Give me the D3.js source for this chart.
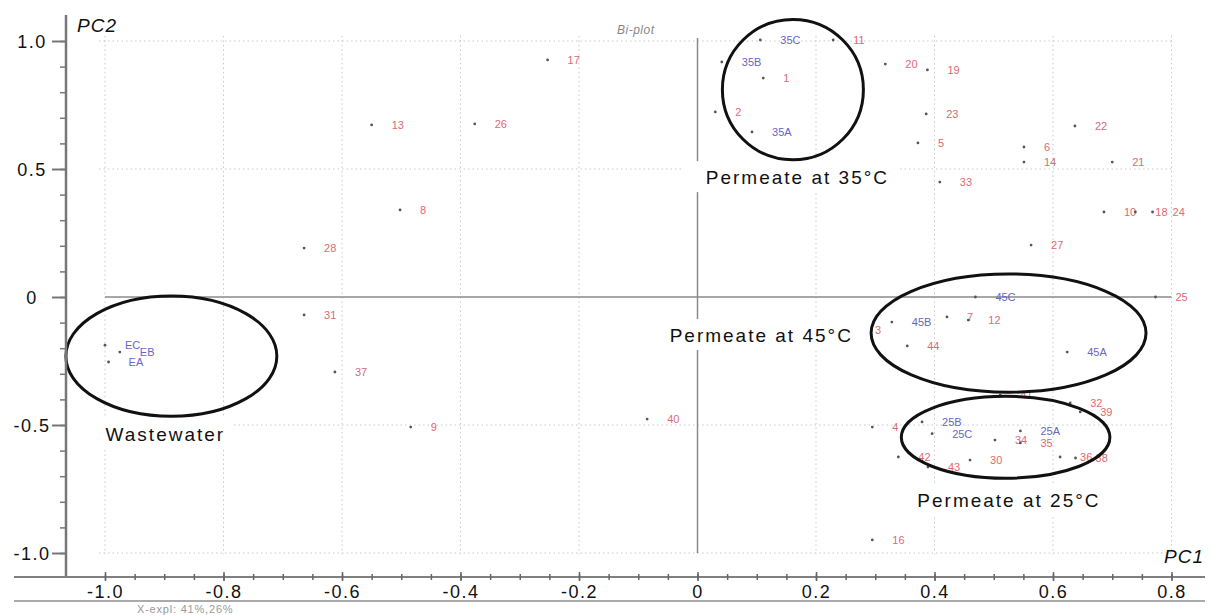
<!DOCTYPE html>
<html>
<head>
<meta charset="utf-8">
<script src="https://cdn.jsdelivr.net/npm/d3@7"></script>
<style>
  body { margin: 0; background: #fff; }
  svg { display: block; font-family: "Liberation Sans", Arial, sans-serif; }
</style>
</head>
<body>
<svg id="chart" width="1211" height="615"></svg>
<script>
// tick values of the two principal components
const xTicks = [-1.0, -0.8, -0.6, -0.4, -0.2, 0, 0.2, 0.4, 0.6, 0.8];
const yTicks = [1.0, 0.5, 0, -0.5, -1.0];

// variable loadings (red labels)
const variables = [
  { id: "1", pc1: 0.111, pc2: 0.855 },
  { id: "2", pc1: 0.030, pc2: 0.723 },
  { id: "3", pc1: 0.266, pc2: -0.129 },
  { id: "4", pc1: 0.295, pc2: -0.508 },
  { id: "5", pc1: 0.372, pc2: 0.602 },
  { id: "6", pc1: 0.551, pc2: 0.586 },
  { id: "7", pc1: 0.421, pc2: -0.078 },
  { id: "8", pc1: -0.502, pc2: 0.340 },
  { id: "9", pc1: -0.484, pc2: -0.508 },
  { id: "10", pc1: 0.686, pc2: 0.332 },
  { id: "11", pc1: 0.229, pc2: 1.004 },
  { id: "12", pc1: 0.457, pc2: -0.090 },
  { id: "13", pc1: -0.550, pc2: 0.672 },
  { id: "14", pc1: 0.551, pc2: 0.527 },
  { id: "16", pc1: 0.295, pc2: -0.949 },
  { id: "17", pc1: -0.253, pc2: 0.926 },
  { id: "18", pc1: 0.739, pc2: 0.332 },
  { id: "19", pc1: 0.388, pc2: 0.887 },
  { id: "20", pc1: 0.317, pc2: 0.910 },
  { id: "21", pc1: 0.700, pc2: 0.527 },
  { id: "22", pc1: 0.637, pc2: 0.668 },
  { id: "23", pc1: 0.386, pc2: 0.715 },
  { id: "24", pc1: 0.768, pc2: 0.332 },
  { id: "25", pc1: 0.773, pc2: 0.000 },
  { id: "26", pc1: -0.376, pc2: 0.676 },
  { id: "27", pc1: 0.563, pc2: 0.203 },
  { id: "28", pc1: -0.664, pc2: 0.191 },
  { id: "30", pc1: 0.460, pc2: -0.637 },
  { id: "31", pc1: -0.664, pc2: -0.070 },
  { id: "32", pc1: 0.629, pc2: -0.414 },
  { id: "33", pc1: 0.409, pc2: 0.449 },
  { id: "34", pc1: 0.502, pc2: -0.559 },
  { id: "35", pc1: 0.545, pc2: -0.570 },
  { id: "36", pc1: 0.612, pc2: -0.625 },
  { id: "37", pc1: -0.612, pc2: -0.293 },
  { id: "38", pc1: 0.638, pc2: -0.629 },
  { id: "39", pc1: 0.646, pc2: -0.449 },
  { id: "40", pc1: -0.085, pc2: -0.477 },
  { id: "41", pc1: 0.511, pc2: -0.383 },
  { id: "42", pc1: 0.339, pc2: -0.625 },
  { id: "43", pc1: 0.389, pc2: -0.664 },
  { id: "44", pc1: 0.354, pc2: -0.191 }
];

// sample scores (blue labels)
const samples = [
  { id: "EC", pc1: -1.000, pc2: -0.188 },
  { id: "EB", pc1: -0.975, pc2: -0.215 },
  { id: "EA", pc1: -0.994, pc2: -0.254 },
  { id: "35C", pc1: 0.106, pc2: 1.004 },
  { id: "35B", pc1: 0.041, pc2: 0.918 },
  { id: "35A", pc1: 0.092, pc2: 0.645 },
  { id: "45C", pc1: 0.469, pc2: 0.000 },
  { id: "45B", pc1: 0.328, pc2: -0.098 },
  { id: "45A", pc1: 0.624, pc2: -0.215 },
  { id: "25B", pc1: 0.379, pc2: -0.488 },
  { id: "25C", pc1: 0.396, pc2: -0.534 },
  { id: "25A", pc1: 0.545, pc2: -0.523 }
];

// sample groups circled on the plot (centre and half-widths in PC units)
const groups = [
  { name: "Wastewater", cx: -0.888, cy: -0.231, rx: 0.178, ry: 0.235 },
  { name: "Permeate at 35°C", cx: 0.161, cy: 0.810, rx: 0.119, ry: 0.274 },
  { name: "Permeate at 45°C", cx: 0.525, cy: -0.141, rx: 0.232, ry: 0.231 },
  { name: "Permeate at 25°C", cx: 0.520, cy: -0.548, rx: 0.176, ry: 0.160 }
];

const svg = d3.select("#chart");

const x = d3.scaleLinear().domain([-1, 0.8]).range([105, 1171.5]);
const y = d3.scaleLinear().domain([-1, 1]).range([553, 41]);

const fmt = d => (d === 0 ? "0" : d.toFixed(1));

// grid
const grid = svg.append("g");
grid.selectAll("line.v")
  .data(xTicks.filter(d => d !== 0))
  .enter().append("line")
  .attr("x1", d => x(d)).attr("x2", d => x(d))
  .attr("y1", y(1.02)).attr("y2", y(-1.005))
  .attr("stroke", "#c8c8c8")
  .attr("stroke-dasharray", "1.5,3");
grid.selectAll("line.h")
  .data(yTicks.filter(d => d !== 0))
  .enter().append("line")
  .attr("x1", x(-1.01)).attr("x2", x(0.802))
  .attr("y1", d => y(d)).attr("y2", d => y(d))
  .attr("stroke", "#c8c8c8")
  .attr("stroke-dasharray", "1.5,3");

// zero lines
svg.append("line")
  .attr("x1", x(-1)).attr("x2", x(0.8))
  .attr("y1", y(0)).attr("y2", y(0))
  .attr("stroke", "#8a8a8a").attr("stroke-width", 1.5);
svg.append("line")
  .attr("x1", x(0)).attr("x2", x(0))
  .attr("y1", y(1.012)).attr("y2", y(-1))
  .attr("stroke", "#8a8a8a").attr("stroke-width", 1.5);

svg.append("text")
  .attr("x", 617).attr("y", 34)
  .attr("font-size", 12).attr("font-style", "italic")
  .attr("letter-spacing", 0.5)
  .attr("fill", "#888")
  .text("Bi-plot");

// points
const drawPoints = (data, color) => {
  const g = svg.append("g")
    .selectAll("g")
    .data(data)
    .enter().append("g")
    .attr("transform", d => `translate(${x(d.pc1)},${y(d.pc2)})`);
  g.append("circle")
    .attr("r", 1.4)
    .attr("fill", "#555");
  g.append("text")
    .attr("x", 20)
    .attr("dy", "0.36em")
    .attr("font-size", 11)
    .attr("fill", color)
    .text(d => d.id);
};
drawPoints(variables, "#dc6a74");
drawPoints(samples, "#6666c4");

// group annotations: white boxes behind the captions
const captionAt = {
  "Wastewater": [-0.999, -0.5625],
  "Permeate at 35°C": [0.014, 0.441],
  "Permeate at 45°C": [-0.047, -0.176],
  "Permeate at 25°C": [0.371, -0.82]
};
const caps = svg.append("g")
  .selectAll("g")
  .data(groups)
  .enter().append("g");
caps.append("rect").attr("fill", "#fff");
const capText = caps.append("text")
  .attr("x", d => x(captionAt[d.name][0]))
  .attr("y", d => y(captionAt[d.name][1]))
  .attr("font-size", 19)
  .attr("letter-spacing", 2)
  .attr("fill", "#111")
  .text(d => d.name);
capText.each(function () {
  const b = this.getBBox();
  d3.select(this.previousSibling)
    .attr("x", b.x - 22).attr("y", b.y - 6)
    .attr("width", b.width + 30).attr("height", b.height + 10);
});

// ellipses
svg.append("g")
  .selectAll("ellipse")
  .data(groups)
  .enter().append("ellipse")
  .attr("cx", d => x(d.cx))
  .attr("cy", d => y(d.cy))
  .attr("rx", d => x(d.rx) - x(0))
  .attr("ry", d => y(0) - y(d.ry))
  .attr("fill", "none")
  .attr("stroke", "#111")
  .attr("stroke-width", 3);

// left axis
const yAxisG = svg.append("g").attr("transform", "translate(66,0)");
yAxisG.call(d3.axisLeft(y).tickValues(d3.range(-10, 11).map(i => i / 10)).tickSize(6).tickFormat(""));
yAxisG.call(g => g.select(".domain").remove());
yAxisG.selectAll(".tick line").attr("stroke", "#777").attr("stroke-width", 1.5);
const yMajor = svg.append("g").attr("transform", "translate(66,0)");
yMajor.call(d3.axisLeft(y).tickValues(yTicks).tickSize(14).tickFormat(fmt));
yMajor.call(g => g.select(".domain").remove());
yMajor.selectAll(".tick line").attr("stroke", "#777").attr("stroke-width", 2);
yMajor.selectAll(".tick text")
  .attr("x", -34).attr("dy", "0.35em")
  .attr("text-anchor", "middle")
  .attr("font-size", 18)
  .attr("letter-spacing", 1.5)
  .attr("font-family", "'Liberation Sans', Arial, sans-serif")
  .attr("fill", "#111");
svg.append("line")
  .attr("x1", 66).attr("x2", 66).attr("y1", 15).attr("y2", 577)
  .attr("stroke", "#777").attr("stroke-width", 2.5);

// bottom axis
svg.append("line")
  .attr("x1", 14).attr("x2", 1205).attr("y1", 577).attr("y2", 577)
  .attr("stroke", "#808080").attr("stroke-width", 2);
svg.append("line")
  .attr("x1", 14).attr("x2", 1205).attr("y1", 601).attr("y2", 601)
  .attr("stroke", "#aaa").attr("stroke-width", 2);
const xMinor = svg.append("g").attr("transform", "translate(0,577)");
xMinor.call(d3.axisBottom(x).tickValues(d3.range(-20, 17).map(i => i / 20)).tickSize(0).tickFormat(""));
xMinor.call(g => g.select(".domain").remove());
xMinor.selectAll(".tick line").attr("y1", -3).attr("y2", 3).attr("stroke", "#666").attr("stroke-width", 1.5);
const xMajor = svg.append("g").attr("transform", "translate(0,577)");
xMajor.call(d3.axisBottom(x).tickValues(xTicks).tickSize(0).tickFormat(fmt));
xMajor.call(g => g.select(".domain").remove());
xMajor.selectAll(".tick line").attr("y1", -5).attr("y2", 4).attr("stroke", "#666").attr("stroke-width", 1.5);
xMajor.selectAll(".tick text")
  .attr("y", 21).attr("dy", 0)
  .attr("font-size", 18)
  .attr("letter-spacing", 1.5)
  .attr("font-family", "'Liberation Sans', Arial, sans-serif")
  .attr("fill", "#111");

// axis titles
svg.append("text")
  .attr("x", 77).attr("y", 32)
  .attr("font-size", 19).attr("font-style", "italic")
  .attr("letter-spacing", 1)
  .attr("fill", "#111")
  .text("PC2");
svg.append("text")
  .attr("x", 1164).attr("y", 563)
  .attr("font-size", 19).attr("font-style", "italic")
  .attr("letter-spacing", 1)
  .attr("fill", "#111")
  .text("PC1");
svg.append("text")
  .attr("x", 137).attr("y", 613)
  .attr("font-size", 11)
  .attr("letter-spacing", 0.8)
  .attr("fill", "#999")
  .text("X-expl: 41%,26%");
</script>
</body>
</html>
